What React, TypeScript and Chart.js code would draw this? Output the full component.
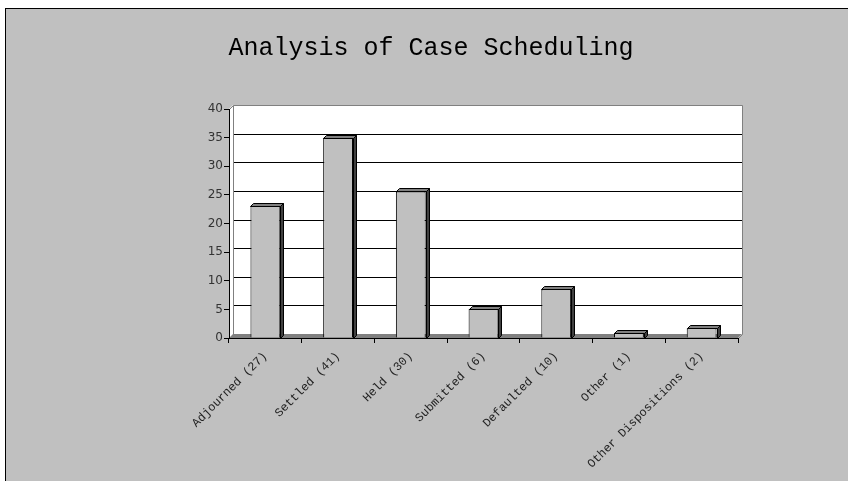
import React, { useEffect, useRef } from "react";
import { Chart, registerables } from "chart.js";

Chart.register(...registerables);

const categories = [
  "Adjourned (27)",
  "Settled (41)",
  "Held (30)",
  "Submitted (6)",
  "Defaulted (10)",
  "Other (1)",
  "Other Dispositions (2)",
];
const values = [23.1, 35.0, 25.6, 5.1, 8.5, 0.9, 1.7];
const yMin = 0;
const yMax = 40;
const yStep = 5;
const titleText = "Analysis of Case Scheduling";

const DEPTH = 4;
const BAR_DEPTH = 3;

const framePlugin = {
  id: "frame3d",
  beforeDraw(chart: any) {
    const ctx = chart.ctx;
    const { left, right, top, bottom } = chart.chartArea;
    const ys = chart.scales.y;
    ctx.save();
    ctx.fillStyle = "#ffffff";
    ctx.fillRect(0, 0, chart.width, chart.height);
    ctx.fillStyle = "#c0c0c0";
    ctx.fillRect(5, 8, chart.width - 5, chart.height - 8);
    ctx.fillStyle = "#000000";
    ctx.fillRect(5, 8, 1, chart.height - 8);
    ctx.fillRect(5, 8, chart.width - 5, 1);

    // back wall
    const wl = left + DEPTH;
    const wr = right + DEPTH;
    const wt = top - DEPTH;
    const wb = bottom - DEPTH;
    ctx.fillStyle = "#ffffff";
    ctx.beginPath();
    ctx.moveTo(left, top);
    ctx.lineTo(wl, wt);
    ctx.lineTo(wr, wt);
    ctx.lineTo(wr, wb);
    ctx.lineTo(right, bottom);
    ctx.lineTo(left, bottom);
    ctx.closePath();
    ctx.fill();

    // gridlines on the wall
    ctx.strokeStyle = "#000000";
    ctx.lineWidth = 1;
    for (let v = yMin + yStep; v < yMax; v += yStep) {
      const py = Math.round(ys.getPixelForValue(v) - DEPTH) + 0.5;
      ctx.beginPath();
      ctx.moveTo(wl, py);
      ctx.lineTo(wr, py);
      ctx.stroke();
    }

    // wall outline
    ctx.strokeStyle = "#808080";
    ctx.beginPath();
    ctx.moveTo(left + 0.5, top + 0.5);
    ctx.lineTo(wl + 0.5, wt + 0.5);
    ctx.lineTo(wr + 0.5, wt + 0.5);
    ctx.lineTo(wr + 0.5, wb + 0.5);
    ctx.lineTo(right + 0.5, bottom + 0.5);
    ctx.stroke();
    ctx.beginPath();
    ctx.moveTo(wl + 0.5, wt + 0.5);
    ctx.lineTo(wl + 0.5, wb + 0.5);
    ctx.stroke();

    // floor
    ctx.fillStyle = "#808080";
    ctx.beginPath();
    ctx.moveTo(left, bottom);
    ctx.lineTo(wl, wb);
    ctx.lineTo(wr, wb);
    ctx.lineTo(right, bottom);
    ctx.closePath();
    ctx.fill();
    ctx.restore();
  },
  afterDatasetsDraw(chart: any) {
    const ctx = chart.ctx;
    const meta = chart.getDatasetMeta(0);
    ctx.save();
    ctx.lineWidth = 1;
    ctx.strokeStyle = "#000000";
    meta.data.forEach((el: any) => {
      const { x, y, base, width } = el.getProps(["x", "y", "base", "width"], true);
      const x1 = Math.round(x - width / 2) + 0.5;
      const x2 = Math.round(x + width / 2) + 0.5;
      const t = Math.round(y) + 0.5;
      const b = Math.round(base) + 0.5;
      const d = BAR_DEPTH;
      // top face
      ctx.fillStyle = "#808080";
      ctx.beginPath();
      ctx.moveTo(x1, t);
      ctx.lineTo(x1 + d, t - d);
      ctx.lineTo(x2 + d, t - d);
      ctx.lineTo(x2, t);
      ctx.closePath();
      ctx.fill();
      ctx.stroke();
      // side face
      ctx.fillStyle = "#404040";
      ctx.beginPath();
      ctx.moveTo(x2, t);
      ctx.lineTo(x2 + d, t - d);
      ctx.lineTo(x2 + d, b - d);
      ctx.lineTo(x2, b);
      ctx.closePath();
      ctx.fill();
      ctx.stroke();
    });
    ctx.restore();
  },
};

export default function App() {
  const canvasRef = useRef<HTMLCanvasElement>(null);

  useEffect(() => {
    if (!canvasRef.current) return;
    const chart = new Chart(canvasRef.current, {
      type: "bar",
      data: {
        labels: categories,
        datasets: [
          {
            data: values,
            backgroundColor: "#c0c0c0",
            borderColor: "#000000",
            borderWidth: 1,
            categoryPercentage: 1,
            barPercentage: 0.41,
          },
        ],
      },
      options: {
        responsive: false,
        animation: false,
        layout: { padding: { left: 124, right: 110, top: 0, bottom: 0 } },
        plugins: {
          legend: { display: false },
          tooltip: { enabled: false },
          title: {
            display: true,
            text: titleText,
            color: "#000000",
            font: { family: "'Liberation Mono', monospace", size: 25, weight: "normal" },
            padding: { top: 33, bottom: 46 },
          },
        },
        scales: {
          x: {
            grid: {
              drawOnChartArea: false,
              drawTicks: true,
              tickLength: 5,
              color: "#000000",
              offset: true,
            },
            border: { display: true, color: "#000000", width: 1 },
            ticks: {
              autoSkip: false,
              maxRotation: 45,
              minRotation: 45,
              padding: 6,
              color: "#222222",
              font: { family: "'Liberation Mono', monospace", size: 12 },
            },
            afterFit: (scale: any) => {
              scale.height = 143;
            },
          },
          y: {
            min: yMin,
            max: yMax,
            grid: {
              drawOnChartArea: false,
              drawTicks: true,
              tickLength: 5,
              color: "#000000",
            },
            border: { display: true, color: "#000000", width: 1 },
            ticks: {
              stepSize: yStep,
              padding: 1,
              color: "#333333",
              font: { family: "'DejaVu Sans', sans-serif", size: 12 },
            },
            afterFit: (scale: any) => {
              scale.width = 105;
            },
          },
        },
      },
      plugins: [framePlugin],
    });
    return () => chart.destroy();
  }, []);

  return (
    <div style={{ position: "absolute", left: 0, top: 0, width: 848, height: 481 }}>
      <canvas ref={canvasRef} width={848} height={481} />
    </div>
  );
}
